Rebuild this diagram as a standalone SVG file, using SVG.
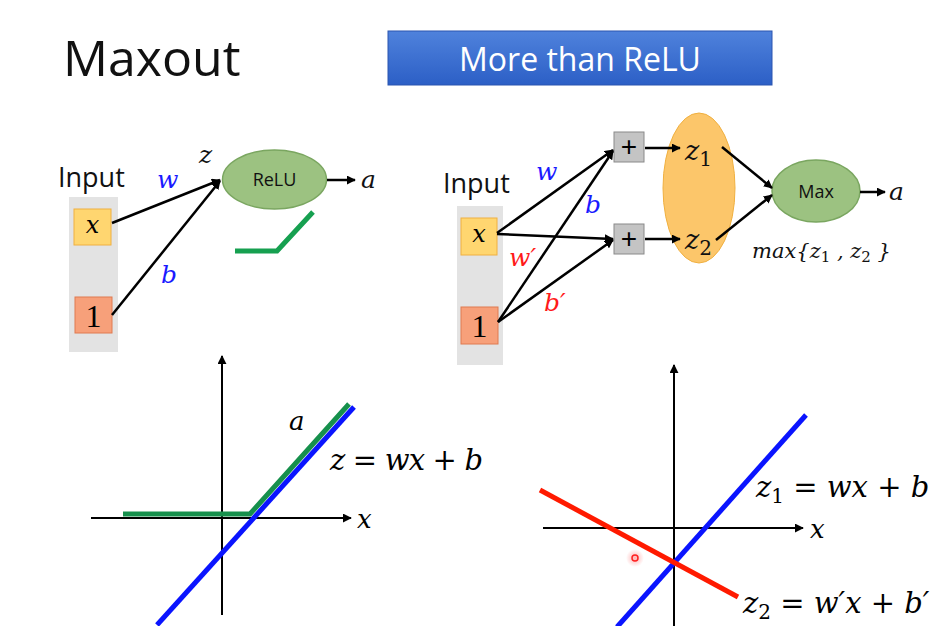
<svg xmlns="http://www.w3.org/2000/svg" width="943" height="626" viewBox="0 0 943 626">
<defs>
<linearGradient id="btn" x1="0" y1="0" x2="0" y2="1">
<stop offset="0" stop-color="#4f82dc"/><stop offset="1" stop-color="#2c5fc6"/>
</linearGradient>
<radialGradient id="glow"><stop offset="0" stop-color="#ff8080" stop-opacity="0.6"/><stop offset="1" stop-color="#ff8080" stop-opacity="0"/></radialGradient>
<marker id="ah" viewBox="0 0 10 10" refX="9" refY="5" markerWidth="9" markerHeight="9" markerUnits="userSpaceOnUse" orient="auto">
<path d="M0,0 L10,5 L0,10 z" fill="#000"/>
</marker>
</defs>
<style>
.sans{font-family:"Open Sans","Liberation Sans",sans-serif;}
.math{font-family:"DejaVu Serif","Liberation Serif",serif;font-style:italic;}
.edge{stroke:#000;stroke-width:2.5;fill:none;marker-end:url(#ah);}
.axis{stroke:#000;stroke-width:2;fill:none;marker-end:url(#ah);}
.inx{fill:#ffd670;stroke:#f0b040;stroke-width:1;}
.in1{fill:#f7a07a;stroke:#e07a50;stroke-width:1;}
.plus{fill:#c4c4c4;stroke:#8a8a8a;stroke-width:1;}
.grn{fill:#9cc281;stroke:#7aa660;stroke-width:1.5;}
.up{font-style:normal;}
</style>
<rect width="943" height="626" fill="#fff"/>
<text x="63" y="76" class="sans" font-size="50" fill="#111">Maxout</text>
<g id="banner">
<rect x="388" y="31" width="384" height="54" fill="url(#btn)" stroke="#2a55b0" stroke-width="1"/>
<text x="580" y="71" class="sans" font-size="32" fill="#fff" text-anchor="middle">More than ReLU</text>
</g>

<!-- left network -->
<rect x="69" y="197" width="49" height="155" fill="#e3e3e3"/>
<text x="58" y="187" class="sans" font-size="27" fill="#111">Input</text>
<g id="lx"><rect x="74" y="209" width="37" height="36" class="inx"/><text x="92.5" y="233" class="math" font-size="24" text-anchor="middle">x</text></g>
<g id="l1"><rect x="75" y="297" width="37" height="36" class="in1"/><text x="93.5" y="327" font-family="Liberation Serif,serif" font-size="32" text-anchor="middle">1</text></g>
<g id="relu"><ellipse cx="274.5" cy="179.5" rx="52" ry="29.5" class="grn"/><text x="274.5" y="186" class="sans" font-size="18" text-anchor="middle" fill="#111">ReLU</text></g>
<g id="lconn">
<line x1="112" y1="223" x2="220" y2="180" class="edge"/>
<line x1="112" y1="315" x2="220" y2="181" class="edge"/>
<line x1="327" y1="180" x2="355" y2="180" class="edge"/>
</g>
<text x="157" y="188" class="math" font-size="25" fill="#1a1aff">w</text>
<text x="161" y="283" class="math" font-size="25" fill="#1a1aff">b</text>
<text x="199" y="163" class="math" font-size="25" fill="#111">z</text>
<text x="361" y="188" class="math" font-size="25" fill="#111">a</text>
<polyline points="235,251 277,251 313,212" fill="none" stroke="#16a050" stroke-width="5"/>

<!-- right network -->
<rect x="457" y="206" width="46" height="159" fill="#e3e3e3"/>
<text x="443" y="193" class="sans" font-size="27" fill="#111">Input</text>
<g id="rx"><rect x="461" y="218" width="36" height="37" class="inx"/><text x="479" y="242" class="math" font-size="24" text-anchor="middle">x</text></g>
<g id="r1"><rect x="461" y="307" width="37" height="37" class="in1"/><text x="479.5" y="337" font-family="Liberation Serif,serif" font-size="32" text-anchor="middle">1</text></g>
<g id="p1"><rect x="614" y="132" width="30" height="30" class="plus"/><text x="629" y="156" font-family="Liberation Sans,sans-serif" font-size="28" text-anchor="middle">+</text></g>
<g id="p2"><rect x="614" y="224" width="30" height="30" class="plus"/><text x="629" y="248" font-family="Liberation Sans,sans-serif" font-size="28" text-anchor="middle">+</text></g>
<g id="zgroup"><ellipse cx="699" cy="188" rx="36" ry="75" fill="#fcc66a" stroke="#f0b040" stroke-width="1"/>
<text x="685" y="160" class="math" font-size="27" fill="#111">z<tspan class="up" font-size="20" dy="6">1</tspan></text>
<text x="685" y="249" class="math" font-size="27" fill="#111">z<tspan class="up" font-size="20" dy="6">2</tspan></text>
</g>
<g id="max"><ellipse cx="816" cy="191" rx="44" ry="31" class="grn"/><text x="816" y="198" class="sans" font-size="18" text-anchor="middle" fill="#111">Max</text></g>
<g id="rconn">
<line x1="497" y1="233" x2="613" y2="150" class="edge"/>
<line x1="497" y1="234" x2="613" y2="239" class="edge"/>
<line x1="498" y1="322" x2="613" y2="151" class="edge"/>
<line x1="498" y1="322" x2="613" y2="240" class="edge"/>
<line x1="645" y1="148" x2="680" y2="148" class="edge"/>
<line x1="645" y1="239" x2="680" y2="239" class="edge"/>
<line x1="722" y1="147" x2="772" y2="188" class="edge"/>
<line x1="716" y1="240" x2="772" y2="195" class="edge"/>
<line x1="860" y1="192" x2="885" y2="192" class="edge"/>
</g>
<text x="536" y="180" class="math" font-size="25" fill="#1a1aff">w</text>
<text x="585" y="213" class="math" font-size="25" fill="#1a1aff">b</text>
<text x="509" y="266" class="math" font-size="25" fill="#ff1a1a">w′</text>
<text x="544" y="311" class="math" font-size="25" fill="#ff1a1a">b′</text>
<text x="889" y="200" class="math" font-size="25" fill="#111">a</text>
<text x="752" y="258" class="math" font-size="21" fill="#111">max{z<tspan class="up" font-size="15" dy="4">1</tspan><tspan dy="-4"> , z</tspan><tspan class="up" font-size="15" dy="4">2</tspan><tspan dy="-4"> }</tspan></text>

<!-- bottom left graph -->
<line x1="222" y1="615" x2="222" y2="356" class="axis"/>
<line x1="91" y1="518" x2="351" y2="518" class="axis"/>
<text x="357" y="528" class="math" font-size="26">x</text>
<line x1="157" y1="625" x2="354" y2="407" stroke="#0a14ff" stroke-width="5"/>
<polyline points="123,514 250,514 349,404" fill="none" stroke="#16904c" stroke-width="5"/>
<text x="289" y="430" class="math" font-size="26">a</text>
<text x="330" y="470" class="math" font-size="29" textLength="153" lengthAdjust="spacing">z <tspan class="up">=</tspan> wx <tspan class="up">+</tspan> b</text>

<!-- bottom right graph -->
<line x1="674" y1="626" x2="674" y2="365" class="axis"/>
<line x1="543" y1="528" x2="803" y2="528" class="axis"/>
<text x="810" y="538" class="math" font-size="26">x</text>
<line x1="617" y1="627" x2="806" y2="415" stroke="#0a14ff" stroke-width="5"/>
<line x1="540" y1="490" x2="738" y2="597" stroke="#ff1a00" stroke-width="5"/>
<text x="756" y="497" class="math" font-size="29">z<tspan class="up" font-size="20" dy="6">1</tspan><tspan dy="-6" class="up"> = </tspan>wx <tspan class="up">+</tspan> b</text>
<text x="743" y="613" class="math" font-size="29">z<tspan class="up" font-size="20" dy="6">2</tspan><tspan dy="-6" class="up"> = </tspan>w′x <tspan class="up">+</tspan> b′</text>
<circle cx="635" cy="558" r="9" fill="url(#glow)"/>
<circle cx="635" cy="558" r="3" fill="none" stroke="#ff2020" stroke-width="1.5"/>
</svg>
